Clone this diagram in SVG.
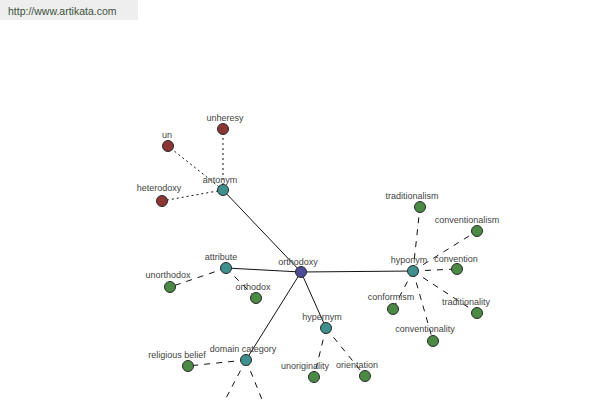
<svg xmlns="http://www.w3.org/2000/svg" width="600" height="400" viewBox="0 0 600 400">
<style>
.lbl{font-family:"Liberation Sans",Arial,sans-serif;font-size:9px;fill:#444;text-anchor:middle}
.n{stroke:#2a2a2a;stroke-width:1}
.root{fill:#4b4b98}
.rel{fill:#3f8f8f}
.red{fill:#8b3535}
.grn{fill:#4a8a45}
.solid{stroke:#111;stroke-width:1;fill:none}
.dot{stroke:#111;stroke-width:1;stroke-dasharray:2 3;fill:none}
.dash{stroke:#111;stroke-width:1;stroke-dasharray:6 6;fill:none}
</style>
<rect width="600" height="400" fill="#fff"/>
<g id="header">
<rect x="0" y="0" width="138" height="20" fill="#eeeeee"/>
<text x="8" y="15" font-family="'Liberation Sans',Arial,sans-serif" font-size="10.5" fill="#3d523d">http://www.artikata.com</text>
</g>
<g id="connectors">
<line class="solid" x1="301" y1="272" x2="223" y2="190"/>
<line class="solid" x1="301" y1="272" x2="226" y2="268"/>
<line class="solid" x1="301" y1="272" x2="413" y2="271"/>
<line class="solid" x1="301" y1="272" x2="326" y2="328"/>
<line class="solid" x1="301" y1="272" x2="246" y2="360"/>
<line class="dot" x1="223" y1="190" x2="223" y2="129"/>
<line class="dot" x1="223" y1="190" x2="168" y2="146"/>
<line class="dot" x1="223" y1="190" x2="162" y2="201"/>
<line class="dash" x1="226" y1="268" x2="170" y2="287"/>
<line class="dash" x1="226" y1="268" x2="256" y2="298"/>
<line class="dash" x1="413" y1="271" x2="420" y2="207"/>
<line class="dash" x1="413" y1="271" x2="477" y2="231"/>
<line class="dash" x1="413" y1="271" x2="457" y2="269"/>
<line class="dash" x1="413" y1="271" x2="393" y2="309"/>
<line class="dash" x1="413" y1="271" x2="477" y2="313"/>
<line class="dash" x1="413" y1="271" x2="433" y2="341"/>
<line class="dash" x1="326" y1="328" x2="314" y2="377"/>
<line class="dash" x1="326" y1="328" x2="365" y2="376"/>
<line class="dash" x1="246" y1="360" x2="188" y2="366"/>
<line class="dash" x1="246" y1="360" x2="224" y2="402"/>
<line class="dash" x1="246" y1="360" x2="263" y2="402"/>
</g>
<g id="orthodoxy"><circle class="n root" cx="301" cy="272" r="5.5"/><text class="lbl" x="298" y="265">orthodoxy</text></g>
<g id="antonym"><circle class="n rel" cx="223" cy="190" r="5.5"/><text class="lbl" x="220" y="183">antonym</text></g>
<g id="unheresy"><circle class="n red" cx="223" cy="129" r="5.5"/><text class="lbl" x="225" y="121">unheresy</text></g>
<g id="un"><circle class="n red" cx="168" cy="146" r="5.5"/><text class="lbl" x="167" y="138">un</text></g>
<g id="heterodoxy"><circle class="n red" cx="162" cy="201" r="5.5"/><text class="lbl" x="159" y="191">heterodoxy</text></g>
<g id="attribute"><circle class="n rel" cx="226" cy="268" r="5.5"/><text class="lbl" x="221" y="260">attribute</text></g>
<g id="unorthodox"><circle class="n grn" cx="170" cy="287" r="5.5"/><text class="lbl" x="168" y="278">unorthodox</text></g>
<g id="orthodox"><circle class="n grn" cx="256" cy="298" r="5.5"/><text class="lbl" x="253" y="290">orthodox</text></g>
<g id="hyponym"><circle class="n rel" cx="413" cy="271" r="5.5"/><text class="lbl" x="409" y="263">hyponym</text></g>
<g id="traditionalism"><circle class="n grn" cx="420" cy="207" r="5.5"/><text class="lbl" x="412" y="199">traditionalism</text></g>
<g id="conventionalism"><circle class="n grn" cx="477" cy="231" r="5.5"/><text class="lbl" x="467" y="223">conventionalism</text></g>
<g id="convention"><circle class="n grn" cx="457" cy="269" r="5.5"/><text class="lbl" x="456" y="262">convention</text></g>
<g id="conformism"><circle class="n grn" cx="393" cy="309" r="5.5"/><text class="lbl" x="391" y="300">conformism</text></g>
<g id="traditionality"><circle class="n grn" cx="477" cy="313" r="5.5"/><text class="lbl" x="466" y="305">traditionality</text></g>
<g id="conventionality"><circle class="n grn" cx="433" cy="341" r="5.5"/><text class="lbl" x="425" y="332">conventionality</text></g>
<g id="hypernym"><circle class="n rel" cx="326" cy="328" r="5.5"/><text class="lbl" x="322" y="320">hypernym</text></g>
<g id="unoriginality"><circle class="n grn" cx="314" cy="377" r="5.5"/><text class="lbl" x="305" y="369">unoriginality</text></g>
<g id="orientation"><circle class="n grn" cx="365" cy="376" r="5.5"/><text class="lbl" x="357" y="368">orientation</text></g>
<g id="domain-category"><circle class="n rel" cx="246" cy="360" r="5.5"/><text class="lbl" x="243" y="352">domain category</text></g>
<g id="religious-belief"><circle class="n grn" cx="188" cy="366" r="5.5"/><text class="lbl" x="177" y="358">religious belief</text></g>
</svg>
